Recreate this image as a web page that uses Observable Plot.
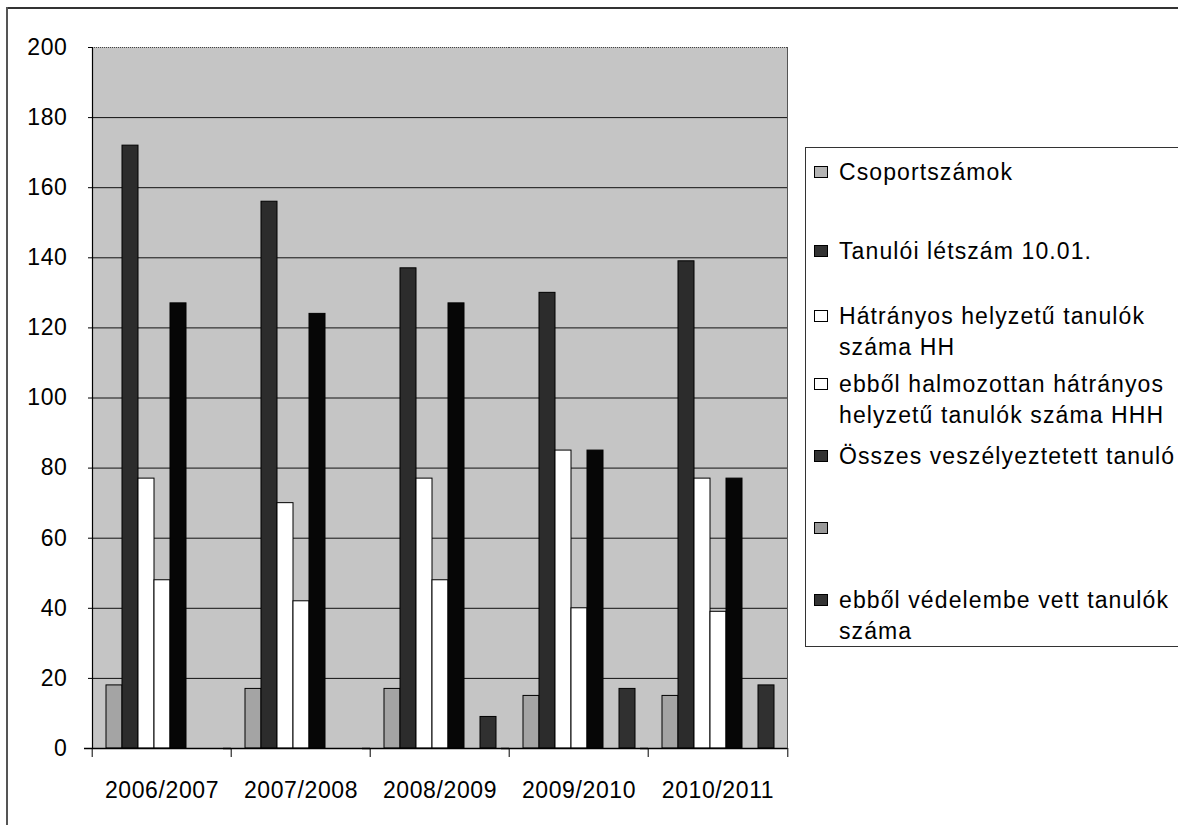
<!DOCTYPE html>
<html><head><meta charset="utf-8">
<script src="https://cdn.jsdelivr.net/npm/d3@7"></script>
<script src="https://cdn.jsdelivr.net/npm/@observablehq/plot@0.6"></script>
<style>
body{margin:0;background:#fff;font-family:"Liberation Sans",Arial,sans-serif;}
#wrap{position:relative;width:1178px;height:825px;overflow:hidden;background:#fff;}
#topline{position:absolute;left:6px;top:7px;width:1172px;height:2px;background:#333;}
#leftline{position:absolute;left:6px;top:7px;width:2px;height:818px;background:#555;}
#chart{position:absolute;left:0;top:0;}
#legend{position:absolute;left:805px;top:147px;width:400px;height:498px;border:1px solid #333;border-right:none;}
.item{position:absolute;left:0;font-size:23px;letter-spacing:1.1px;line-height:31px;color:#000;}
.sw{position:absolute;left:8px;width:14px;height:12px;border:1px solid #000;box-sizing:border-box;}
.lbl{position:absolute;left:33px;white-space:nowrap;}
</style>
</head><body>
<div id="wrap">
  <div id="topline"></div>
  <div id="leftline"></div>
  <div id="chart"></div>
  <div id="legend"></div>
</div>
<script>
// ---- data ----
const years = ["2006/2007", "2007/2008", "2008/2009", "2009/2010", "2010/2011"];
const seriesNames = [
  "Csoportszámok",
  "Tanulói létszám 10.01.",
  "Hátrányos helyzetű tanulók száma HH",
  "ebből halmozottan hátrányos helyzetű tanulók száma HHH",
  "Összes veszélyeztetett tanuló",
  "",
  "ebből védelembe vett tanulók száma"
];
const legendLines = [
  ["Csoportszámok"],
  ["Tanulói létszám 10.01."],
  ["Hátrányos helyzetű tanulók", "száma HH"],
  ["ebből halmozottan hátrányos", "helyzetű tanulók száma HHH"],
  ["Összes veszélyeztetett tanuló"],
  [""],
  ["ebből védelembe vett tanulók", "száma"]
];
const csoportszamok = [18, 17, 17, 15, 15];
const tanuloiLetszam = [172, 156, 137, 130, 139];
const hatranyosHH = [77, 70, 77, 85, 77];
const halmozottanHHH = [48, 42, 48, 40, 39];
const osszesVeszelyeztetett = [127, 124, 127, 85, 77];
const ures = [null, null, null, null, null];
const vedelembeVett = [0, 0, 9, 17, 18];
const yTicks = [0, 20, 40, 60, 80, 100, 120, 140, 160, 180, 200];
const gridTicks = [20, 40, 60, 80, 100, 120, 140, 160, 180];

const seriesValues = [csoportszamok, tanuloiLetszam, hatranyosHH, halmozottanHHH, osszesVeszelyeztetett, ures, vedelembeVett];
const barFills = ["#a4a4a4", "#2c2c2c", "#ffffff", "#ffffff", "#060606", "#999999", "#303030"];
const swatchFills = ["#b4b4b4", "#333333", "#ffffff", "#ffffff", "#333333", "#999999", "#333333"];

const data = [];
years.forEach((yr, i) => seriesNames.forEach((s, j) => {
  const v = seriesValues[j][i];
  if (v != null && v > 0) data.push({year: yr, series: s, value: v});
}));

// ---- chart ----
const W = 800, H = 825, ML = 90, MR = 12, MT = 47, MB = 77;
const fxBand = (W - ML - MR) / years.length;
const bg = "#c5c5c5";

const chart = Plot.plot({
  width: W, height: H,
  marginLeft: ML, marginRight: MR, marginTop: MT, marginBottom: MB,
  style: {fontFamily: "Liberation Sans, Arial, sans-serif", fontSize: "23px", background: "transparent", color: "#000", letterSpacing: "0.6px"},
  fx: {domain: years, padding: 0, label: null, axis: null},
  x: {domain: seriesNames, paddingInner: 0, paddingOuter: 0.75, axis: null},
  y: {domain: [0, 200], label: null, axis: null},
  color: {domain: seriesNames, range: barFills},
  marks: [
    Plot.frame({fill: bg, stroke: bg, strokeWidth: 1}),
    Plot.ruleY(gridTicks, {stroke: "#111", strokeWidth: 1}),
    Plot.ruleY([200], {stroke: "#444", strokeDasharray: "1,1"}),
    Plot.barY(data, {fx: "year", x: "series", y: "value", fill: "series", stroke: "#000", strokeWidth: 1}),
    Plot.ruleY([0], {stroke: "#000", strokeWidth: 1.5, insetLeft: -8}),
    Plot.frame({anchor: "left", facetAnchor: "left", stroke: "#000", strokeWidth: 1.2}),
    Plot.frame({anchor: "right", facetAnchor: "right", stroke: "#555", strokeDasharray: "1,1"}),
    Plot.axisY({ticks: yTicks, tickSize: 4, tickPadding: 21, fontSize: 23, label: null, facetAnchor: "left"}),
    Plot.axisFx({anchor: "bottom", tickSize: 0, tickPadding: 33, fontSize: 23, label: null}),
    Plot.axisFx({anchor: "bottom", tickSize: 9, tickFormat: () => "", dx: -fxBand / 2, label: null}),
    Plot.axisFx({anchor: "bottom", ticks: [years[years.length - 1]], tickSize: 9, tickFormat: () => "", dx: fxBand / 2, label: null})
  ]
});
document.getElementById("chart").appendChild(chart);

// ---- legend ----
const legendOffsets = [24, 103, 168, 236, 308, 380, 452];
const legend = document.getElementById("legend");
legendLines.forEach((lines, i) => {
  const item = document.createElement("div");
  item.className = "item";
  item.style.top = (legendOffsets[i] - 15.5) + "px";
  const sw = document.createElement("div");
  sw.className = "sw";
  sw.style.top = "9px";
  sw.style.background = swatchFills[i];
  item.appendChild(sw);
  const lbl = document.createElement("div");
  lbl.className = "lbl";
  lbl.innerHTML = lines.join("<br>");
  item.appendChild(lbl);
  legend.appendChild(item);
});
</script>
</body></html>
